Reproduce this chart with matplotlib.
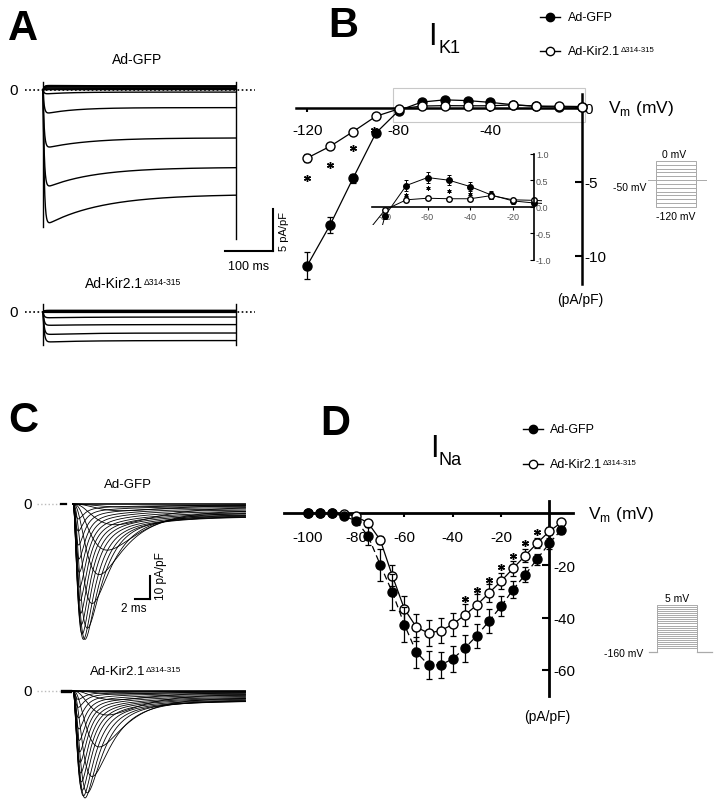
import numpy as np
import matplotlib.pyplot as plt
from matplotlib.patches import Rectangle

plt.rcParams['font.family'] = ['Liberation Sans', 'DejaVu Sans']
plt.rcParams['mathtext.fontset'] = 'custom'
plt.rcParams['mathtext.rm'] = 'Liberation Sans'
plt.rcParams['axes.unicode_minus'] = False

# ---------------- datos panel B (IK1, pA/pF vs mV) ----------------
k1_v = [-120, -110, -100, -90, -80, -70, -60, -50, -40, -30, -20, -10, 0]
k1_gfp = [-10.65, -7.9, -4.75, -1.69, -0.17, 0.40, 0.55, 0.50, 0.38, 0.22, 0.11, 0.07, 0.05]
k1_gfp_err = [0.9, 0.55, 0.3, 0.15, 0.06, 0.1, 0.1, 0.09, 0.08, 0.07, 0.05, 0.04, 0.04]
k1_kir = [-3.38, -2.59, -1.60, -0.56, -0.06, 0.13, 0.16, 0.15, 0.15, 0.21, 0.13, 0.12, 0.10]
k1_kir_err = [0.25, 0.15, 0.1, 0.06, 0.03, 0.05, 0.04, 0.04, 0.04, 0.06, 0.04, 0.03, 0.03]
k1_star_v = [-120, -110, -100, -91]
k1_star_y = [-4.7, -3.85, -2.7, -1.5]
inset_star_v = [-70, -60, -50, -40]
inset_star_y = [0.22, 0.35, 0.30, 0.24]
k1_steps = [0, -10, -20, -30, -40, -50, -60, -70, -80, -90, -100, -110, -120]
k1_hold = -50

# ---------------- datos panel D (INa) ----------------
na_v = [-100, -95, -90, -85, -80, -75, -70, -65, -60, -55, -50, -45,
        -40, -35, -30, -25, -20, -15, -10, -5, 0, 5]
na_gfp = [0, 0, 0, -1.3, -2.9, -8.9, -19.8, -30.3, -42.7, -53.3, -58.1, -58.1,
          -55.8, -51.7, -46.9, -41.4, -35.7, -29.3, -23.6, -17.6, -11.6, -6.4]
na_gfp_err = [0.3, 0.3, 0.3, 0.5, 1.0, 3.5, 6.2, 6.9, 6.8, 5.9, 5.2, 5.0,
              5.0, 5.1, 4.6, 4.5, 3.8, 3.3, 2.9, 2.1, 2.0, 1.5]
na_kir = [0, 0, 0, -0.3, -1.3, -3.8, -10.3, -24.0, -36.7, -43.7, -45.9, -45.0,
          -42.6, -39.0, -35.2, -30.6, -26.1, -21.2, -16.3, -11.5, -7.0, -3.6]
na_kir_err = [0.2, 0.2, 0.2, 0.3, 0.5, 1.0, 1.5, 4.1, 5.1, 5.1, 5.1, 4.8,
              4.3, 4.1, 4.1, 3.5, 3.1, 2.9, 2.5, 2.0, 1.5, 1.0]
na_star_v = [-35, -30, -25, -20, -15, -10, -5]
na_star_y = [-32.7, -29.3, -25.5, -20.8, -16.3, -11.5, -7.4]
# constantes de tiempo (ms) de activacion / inactivacion para los registros del panel C
na_tm = [4.0, 4.0, 4.0, 4.0, 3.5, 3.0, 2.4, 1.75, 1.2, 0.85, 0.7, 0.6,
         0.52, 0.47, 0.43, 0.4, 0.37, 0.35, 0.33, 0.31, 0.3, 0.3]
na_th = [6.0, 6.0, 6.0, 6.0, 6.0, 5.0, 4.0, 3.2, 2.5, 2.0, 1.7, 1.5,
         1.35, 1.25, 1.15, 1.05, 1.0, 0.95, 0.9, 0.85, 0.8, 0.8]
na_hold = -160

# ---------------- registros panel A (pA/pF) ----------------
a_gfp_peak = [-16.3, -11.8, -7.0, -2.9, -0.5, 0.4, 0.55, 0.5, 0.38, 0.25, 0.12, 0.08, 0.05]
a_gfp_ss = [-12.4, -9.2, -5.7, -2.1, -0.25, 0.35, 0.5, 0.45, 0.35, 0.2, 0.1, 0.07, 0.05]
a_gfp_tau = [115, 100, 90, 60, 50, 50, 50, 50, 50, 50, 50, 50, 50]
a_kir_peak = [-3.6, -2.7, -1.6, -0.7, -0.05, 0.15, 0.15, 0.15, 0.15, 0.2, 0.12, 0.1, 0.1]
a_kir_ss = [-3.4, -2.5, -1.5, -0.6, -0.05, 0.15, 0.15, 0.15, 0.15, 0.2, 0.12, 0.1, 0.1]
a_kir_tau = [80, 80, 80, 80, 50, 50, 50, 50, 50, 50, 50, 50, 50]
a_gfp_on = [1.0, -16.3]
a_gfp_off = [1.0, -17.7]
a_kir_on = [0.9, -3.9]
a_kir_off = [0.9, -3.9]

W, H = 722, 812
fig = plt.figure(figsize=(W / 100, H / 100), dpi=100)

# ejes de fondo en pixeles para textos y leyendas
bg = fig.add_axes([0, 0, 1, 1])
bg.set_xlim(0, W)
bg.set_ylim(H, 0)
bg.axis('off')


def px_axes(l, t, r, b, xref, yref, show=False):
    ax = fig.add_axes([l / W, 1 - b / H, (r - l) / W, (b - t) / H])
    px, v, s = xref
    ax.set_xlim(v + (l - px) / s, v + (r - px) / s)
    py, v, s = yref
    ax.set_ylim(v - (b - py) / s, v + (py - t) / s)
    ax.patch.set_alpha(0)
    if not show:
        ax.axis('off')
    return ax


def label(x, y, s, size, **kw):
    kw.setdefault('ha', 'left')
    kw.setdefault('va', 'center')
    return bg.text(x, y, s, fontsize=size, **kw)


def kir_label(x, y, size, **kw):
    t = label(x, y, 'Ad-Kir2.1', size, **kw)
    bg.annotate('\u0394314-315', xy=(1, 1), xycoords=t, xytext=(0.4, -0.5),
                textcoords='offset points', fontsize=size * 0.62, ha='left', va='top')
    return t


def iv_axes(ax, xb, yb):
    for s in ['top', 'left']:
        ax.spines[s].set_visible(False)
    ax.spines['bottom'].set_position(('data', 0))
    ax.spines['bottom'].set_bounds(*xb)
    ax.spines['right'].set_position(('data', 0))
    ax.spines['right'].set_bounds(*yb)
    ax.xaxis.set_ticks_position('bottom')
    ax.yaxis.tick_right()


# letras de panel
for s, x, y in [('A', 8, 40), ('B', 328, 37), ('C', 8, 432), ('D', 320, 435)]:
    bg.text(x, y, s, fontsize=30, fontweight='bold', ha='left', va='baseline')

# ================= panel A =================
t_a = np.linspace(0, 400, 1601)
axA1 = px_axes(0, 70, 300, 270, (43, 0, 0.4825), (91, 0, 8.4))
axA1.plot([-37, 439], [0, 0], ls=(0, (1, 1.5)), color='k', lw=1.2)
for pk, ss, tau in zip(a_gfp_peak, a_gfp_ss, a_gfp_tau):
    cur = (ss + (pk - ss) * np.exp(-t_a / tau)) * (1 - np.exp(-t_a / 2.5))
    axA1.plot(t_a, cur, color='k', lw=1.0)
axA1.plot([0, 0], a_gfp_on, color='k', lw=1.0)
axA1.plot([400, 400], a_gfp_off, color='k', lw=1.0)
axA1.text(-60, 0, '0', fontsize=11, ha='center', va='center')
sb_x, sb_y = 477, -19.2
axA1.plot([sb_x, sb_x], [sb_y, sb_y + 5], color='k', lw=1.5)
axA1.plot([sb_x - 100, sb_x], [sb_y, sb_y], color='k', lw=1.5)
axA1.text(sb_x - 50, sb_y - 1.0, '100 ms', fontsize=9, ha='center', va='top')
axA1.text(sb_x + 12, sb_y + 2.5, '5 pA/pF', fontsize=8, rotation=90, ha='left', va='center')
label(137, 60, 'Ad-GFP', 10, ha='center')

axA2 = px_axes(0, 270, 300, 360, (43, 0, 0.4825), (313, 0, 8.4))
axA2.plot([-37, 439], [0, 0], ls=(0, (1, 1.5)), color='k', lw=1.2)
for pk, ss, tau in zip(a_kir_peak, a_kir_ss, a_kir_tau):
    cur = (ss + (pk - ss) * np.exp(-t_a / tau)) * (1 - np.exp(-t_a / 2.5))
    axA2.plot(t_a, cur, color='k', lw=1.0)
axA2.plot([0, 0], a_kir_on, color='k', lw=1.0)
axA2.plot([400, 400], a_kir_off, color='k', lw=1.0)
axA2.text(-60, 0, '0', fontsize=11, ha='center', va='center')
kir_label(85, 284, 10)

# ================= panel C =================
t_c = np.linspace(0, 23, 1400)


def na_traces(ax, amps):
    for amp, tm, th in zip(amps, na_tm, na_th):
        m = 1 - np.exp(-t_c / tm)
        h = 0.88 * np.exp(-t_c / th) + 0.09 * np.exp(-t_c / 6.0) + 0.03
        shape = m ** 3 * h
        ax.plot(t_c, amp * shape / shape.max(), color='k', lw=0.6)
    ax.plot([-4.8, -1.7], [0, 0], color='#bbbbbb', ls=':', lw=1.0)
    ax.text(-6.1, 0, '0', fontsize=11, ha='center', va='center')


axC1 = px_axes(0, 470, 260, 665, (73, 0, 7.5), (505, 0, 2.33))
na_traces(axC1, na_gfp)
axC1.plot([-1.6, -0.9], [0, 0], color='k', lw=1.6)
sc_x, sc_y = 10.27, -40.8
axC1.plot([sc_x, sc_x], [sc_y, sc_y + 10], color='k', lw=1.5)
axC1.plot([sc_x - 2, sc_x], [sc_y, sc_y], color='k', lw=1.5)
axC1.text(sc_x - 2.2, sc_y - 1.3, '2 ms', fontsize=8.5, ha='center', va='top')
axC1.text(sc_x + 0.6, sc_y + 10.5, '10 pA/pF', fontsize=8.5, rotation=90, ha='left', va='center')
label(128, 485, 'Ad-GFP', 9.5, ha='center')

axC2 = px_axes(0, 665, 260, 812, (73, 0, 7.5), (692, 0, 2.33))
na_traces(axC2, na_kir)
axC2.plot([-1.5, -0.4], [0, 0], color='k', lw=2.4)
kir_label(90, 672, 9.5)

# ================= panel B =================
axB = px_axes(285, 80, 600, 300, (582, 0, 2.29), (109, 0, 14.8), show=True)
iv_axes(axB, (-125, 0), (-11.9, 0.95))
for s in ['bottom', 'right']:
    axB.spines[s].set_linewidth(1.8)
axB.set_xticks([-120, -80, -40])
axB.set_xticklabels(['-120', '-80', '-40'])
axB.set_yticks([0, -5, -10])
axB.set_yticklabels(['0', '-5', '-10'])
axB.tick_params(axis='x', direction='out', length=3, width=1.5, pad=8, labelsize=11)
axB.tick_params(axis='y', direction='in', length=5, width=1.5, pad=2, labelsize=11)
axB.add_patch(Rectangle((-82.5, -0.93), 83.8, 2.28, fill=False, ec='#c8c8c8', lw=0.8))
axB.errorbar(k1_v, k1_gfp, yerr=k1_gfp_err, fmt='-o', color='k', mfc='k', mec='k', ms=6.5,
             lw=0.9, elinewidth=0.9, capsize=2.5, capthick=0.9, zorder=3)
axB.errorbar(k1_v, k1_kir, yerr=k1_kir_err, fmt='-o', color='k', mfc='white', mec='k', ms=6.5,
             lw=0.9, elinewidth=0.9, capsize=2.5, capthick=0.9, zorder=4)
axB.plot(k1_star_v, k1_star_y, ls='none', marker=(6, 2, 0), ms=5, mew=1.0, color='k')

axI = px_axes(372, 150, 534, 265, (385, -80, 2.129), (207.7, 0, 53), show=True)
for s in ['top', 'left']:
    axI.spines[s].set_visible(False)
axI.spines['bottom'].set_position(('data', 0))
axI.spines['right'].set_bounds(-1.0, 1.0)
for s in ['bottom', 'right']:
    axI.spines[s].set_linewidth(1.2)
axI.xaxis.set_ticks_position('bottom')
axI.yaxis.tick_right()
axI.set_xticks([-80, -60, -40, -20])
axI.set_xticklabels(['-80', '-60', '-40', '-20'])
axI.set_yticks([1.0, 0.5, 0.0, -0.5, -1.0])
axI.set_yticklabels(['1.0', '0.5', '0.0', '-0.5', '-1.0'])
axI.tick_params(axis='x', direction='out', length=2, width=0.8, pad=2,
                labelsize=6.5, labelcolor='#555555')
axI.tick_params(axis='y', direction='in', length=3, width=0.8, pad=1.5,
                labelsize=6.5, labelcolor='#555555')
# las lineas del recuadro se cortan poco por debajo de cero
clip_box = Rectangle((-86.2, -0.35), 80, 1.5, transform=axI.transData)
for yv, ye, fc in [(k1_gfp, k1_gfp_err, 'k'), (k1_kir, k1_kir_err, 'white')]:
    cont = axI.errorbar(k1_v, yv, yerr=ye, fmt='-o', color='k', mfc=fc, ms=4,
                        lw=0.7, elinewidth=0.7, capsize=1.5, capthick=0.7)
    cont[0].set_clip_path(clip_box)
axI.plot(inset_star_v, inset_star_y, ls='none', marker=(6, 2, 0), ms=3, mew=0.7, color='k')

bg.text(428, 45, 'I', fontsize=22, ha='left', va='baseline')
bg.text(438, 53, 'K1', fontsize=13, ha='left', va='baseline')
label(608, 108, r'V$_\mathregular{m}$ (mV)', 12.5)
label(580, 300, '(pA/pF)', 10, ha='center')

# leyenda B
bg.plot([540, 550, 560], [18, 18, 18], color='k', lw=1, marker='o', ms=6, markevery=[1], mfc='k')
bg.plot([540, 550, 560], [52, 52, 52], color='k', lw=1, marker='o', ms=6, markevery=[1], mfc='white')
label(568, 18, 'Ad-GFP', 9)
kir_label(568, 52, 9)

# protocolo B
axPB = px_axes(640, 150, 715, 225, (656, 0, 0.08), (162, 0, 0.383))
for v in k1_steps:
    axPB.plot([0, 0, 500, 500], [k1_hold, v, v, k1_hold], color='#aaaaaa', lw=0.7)
axPB.plot([-100, 0], [k1_hold, k1_hold], color='#aaaaaa', lw=0.7)
axPB.plot([500, 620], [k1_hold, k1_hold], color='#aaaaaa', lw=0.7)
label(674, 155, '0 mV', 7.5, ha='center')
label(630, 188, '-50 mV', 7.5, ha='center')
label(676, 217, '-120 mV', 7.5, ha='center')

# ================= panel D =================
axD = px_axes(280, 490, 600, 730, (549.3, 0, 2.415), (514, 0, 2.615), show=True)
iv_axes(axD, (-110, 10), (-70, 4.7))
for s in ['bottom', 'right']:
    axD.spines[s].set_linewidth(2.0)
axD.set_xticks([-100, -80, -60, -40, -20])
axD.set_xticklabels(['-100', '-80', '-60', '-40', '-20'])
axD.set_yticks([-20, -40, -60])
axD.set_yticklabels(['-20', '-40', '-60'])
axD.tick_params(axis='x', direction='out', length=3, width=1.5, pad=9, labelsize=11)
axD.tick_params(axis='y', direction='in', length=5, width=1.5, pad=3, labelsize=11)
axD.errorbar(na_v, na_kir, yerr=na_kir_err, fmt='-o', color='k', mfc='white', ms=6.5,
             lw=0.9, elinewidth=0.9, capsize=2.5, capthick=0.9, zorder=3)
axD.errorbar(na_v, na_gfp, yerr=na_gfp_err, fmt='o', ls=(0, (5, 3)), color='k', mfc='k',
             ms=6.5, lw=0.9, elinewidth=0.9, capsize=2.5, capthick=0.9, zorder=4)
axD.plot(na_star_v, na_star_y, ls='none', marker=(6, 2, 0), ms=5, mew=1.0, color='k')

bg.text(430, 457, 'I', fontsize=22, ha='left', va='baseline')
bg.text(439, 465, 'Na', fontsize=13, ha='left', va='baseline')
label(588, 515, r'V$_\mathregular{m}$ (mV)', 12.5)
label(547, 717, '(pA/pF)', 10, ha='center')

# leyenda D
bg.plot([523, 533, 543], [430, 430, 430], color='k', lw=1, marker='o', ms=6, markevery=[1], mfc='k')
bg.plot([523, 533, 543], [465, 465, 465], color='k', lw=1, marker='o', ms=6, markevery=[1], mfc='white')
label(550, 430, 'Ad-GFP', 9)
kir_label(550, 465, 9)

# protocolo D
axPD = px_axes(640, 595, 720, 653, (657, 0, 0.08), (606, 5, 0.41))
y_hold = axPD.get_ylim()[0]
for v in na_v:
    axPD.plot([0, 0, 500, 500], [y_hold, v, v, y_hold], color='#aaaaaa', lw=0.7)
axPD.plot([-100, 0], [y_hold, y_hold], color='#aaaaaa', lw=0.9, clip_on=False)
axPD.plot([500, 690], [y_hold, y_hold], color='#aaaaaa', lw=0.9, clip_on=False)
label(677, 599, '5 mV', 7.5, ha='center')
label(624, 654, '%d mV' % na_hold, 7.5, ha='center')

fig.savefig('out.png', dpi=100)
